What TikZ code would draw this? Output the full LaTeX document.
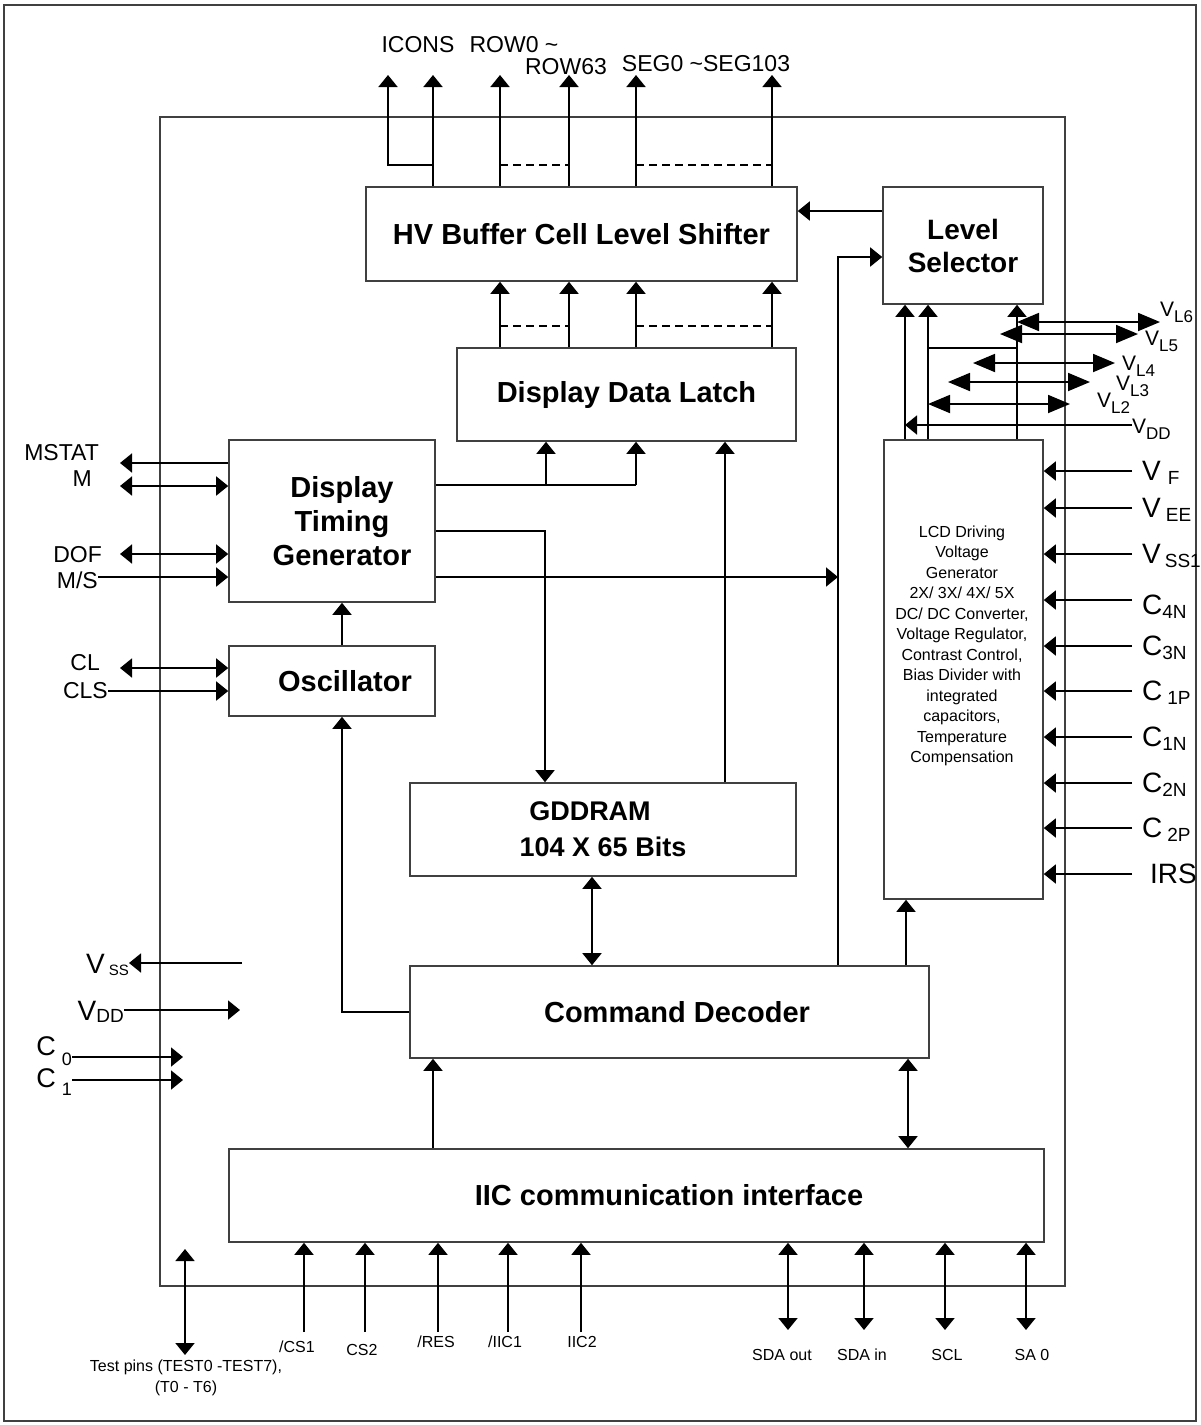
\documentclass[tikz,border=0pt]{standalone}
\usepackage{fontspec}
\setmainfont{Liberation Sans}
\usetikzlibrary{arrows.meta}

\newcommand{\lowsub}[3]{\raisebox{-#3}{\fontsize{#1}{#1}\selectfont #2}}

\tikzset{
	frame/.style={line width=1.6pt, draw=black!75},
	blockbox/.style={draw=black!75, line width=1.6pt, inner sep=0pt, align=center,
		font=\fontsize{29}{34}\selectfont\bfseries},
	arr/.style={line width=1.8pt, -{Triangle[length=12pt,width=19pt]}},
	darr/.style={line width=1.8pt, {Triangle[length=12pt,width=19pt]}-{Triangle[length=12pt,width=19pt]}},
	bigdarr/.style={line width=1.8pt, {Triangle[length=22pt,width=18pt]}-{Triangle[length=22pt,width=18pt]}},
	bus/.style={line width=1.6pt, dash pattern=on 8pt off 5pt},
	pinlbl/.style={inner sep=0pt, font=\fontsize{23}{27}\selectfont},
	biglbl/.style={inner sep=0pt, font=\fontsize{28}{30}\selectfont, anchor=base west},
	vllbl/.style={inner sep=0pt, font=\fontsize{21}{24}\selectfont, anchor=base west},
	smalllbl/.style={inner sep=0pt, font=\fontsize{16}{21}\selectfont, align=center},
}

\begin{document}
\begin{tikzpicture}[x=1pt, y=-1pt]
	\useasboundingbox (0,0) rectangle (1200,1425);
	%% Rahmen
	\draw[frame] (4,5) rectangle (1196,1421);
	\draw[frame] (160,117) rectangle (1065,1286);

	%% Bloecke
	\node[blockbox, minimum width=431pt, minimum height=94pt] (hv) at (581.5,234) {HV Buffer Cell Level Shifter};
	\node[blockbox, minimum width=160pt, minimum height=117pt, font=\fontsize{28}{33}\selectfont\bfseries] (lsel) at (963,245.5) {Level\\Selector};
	\node[blockbox, minimum width=339pt, minimum height=93pt] (ddl) at (626.5,394.5) {Display Data Latch};
	\node[blockbox, minimum width=206pt, minimum height=162pt] (dtg) at (332,521) {\hspace*{20pt}Display\\\hspace*{20pt}Timing\\\hspace*{20pt}Generator};
	\node[blockbox, minimum width=206pt, minimum height=70pt] (osc) at (332,681) {\hspace*{26pt}Oscillator};
	\node[blockbox, minimum width=386pt, minimum height=93pt, font=\fontsize{27}{36}\selectfont\bfseries] (gdd) at (603,829.5) {GDDRAM\hspace*{26pt}\\104 X 65 Bits};
	\node[blockbox, minimum width=159pt, minimum height=459pt] (lcd) at (963.5,669.5) {};
	\node[blockbox, minimum width=519pt, minimum height=92pt] (cmd) at (669.5,1012) {\hspace*{15pt}Command Decoder};
	\node[blockbox, minimum width=815pt, minimum height=93pt] (iic) at (636.5,1195.5) {\hspace*{65pt}IIC communication interface};

	\node[smalllbl, font=\fontsize{16}{20.5}\selectfont] (lcdtxt) at (962,646) {LCD Driving\\Voltage\\Generator\\2X/ 3X/ 4X/ 5X\\DC/ DC Converter,\\Voltage Regulator,\\Contrast Control,\\Bias Divider with\\integrated\\capacitors,\\Temperature\\Compensation};

	%% Ausgaenge oben
	\node[pinlbl] (icons) at (418,45) {ICONS};
	\node[pinlbl] (row0) at (514,45) {ROW0 \textasciitilde};
	\node[pinlbl] (row63) at (566,67) {ROW63};
	\node[pinlbl] (seg) at (706,64) {SEG0 \textasciitilde SEG103};

	\draw[arr] (hv.north -| 433,0) -- (433,75);
	\draw[arr] (433,165) -| (388,75);
	\foreach \x in {500,569,636,772}
		\draw[arr] (hv.north -| \x,0) -- (\x,75);
	\draw[bus] (500,165) -- (569,165);
	\draw[bus] (636,165) -- (772,165);

	%% Latch -> Shifter
	\foreach \x in {500,569,636,772}
		\draw[arr] (ddl.north -| \x,0) -- (hv.south -| \x,0);
	\draw[bus] (500,326) -- (569,326);
	\draw[bus] (636,326) -- (772,326);

	%% Level Selector
	\draw[arr] (lsel.west |- 0,211) -- (hv.east |- 0,211);
	\draw[arr] (cmd.north -| 838,0) |- (lsel.west |- 0,257);
	\foreach \x in {905,928,1017}
		\draw[arr] (lcd.north -| \x,0) -- (lsel.south -| \x,0);
	\draw[line width=1.8pt] (928,348) -- (1017,348);

	%% V_L
	\node[vllbl] (vl6) at (1160,316) {V\lowsub{17pt}{L6}{6pt}};
	\node[vllbl] (vl5) at (1145,345) {V\lowsub{17pt}{L5}{6pt}};
	\node[vllbl] (vl4) at (1122,370) {V\lowsub{17pt}{L4}{6pt}};
	\node[vllbl] (vl3) at (1116,390) {V\lowsub{17pt}{L3}{6pt}};
	\node[vllbl] (vl2) at (1097,407) {V\lowsub{17pt}{L2}{6pt}};
	\node[vllbl] (vdd2) at (1132,433) {V\lowsub{17pt}{DD}{6pt}};
	\draw[bigdarr] (1017,322) -- (1160,322);
	\draw[bigdarr] (1000,334) -- (1138,334);
	\draw[bigdarr] (973,363) -- (1115,363);
	\draw[bigdarr] (948,382) -- (1090,382);
	\draw[bigdarr] (928,404) -- (1070,404);
	\draw[arr] (vdd2.west |- 0,425) -- (905,425);

	%% Eingaenge rechts
	\foreach \y/\nm/\lbl in {471/vf/{V\hspace{7pt}\lowsub{19pt}{F}{4pt}},
			508/vee/{V\hspace{5pt}\lowsub{19pt}{EE}{4pt}},
			554/vssa/{V\hspace{4pt}\lowsub{19pt}{SS1}{4pt}},
			646/cthn/{C\lowsub{19pt}{3N}{4pt}},
			691/cop/{C\hspace{5pt}\lowsub{19pt}{1P}{4pt}},
			737/con/{C\lowsub{19pt}{1N}{4pt}},
			783/ctn/{C\lowsub{19pt}{2N}{4pt}},
			828/ctp/{C\hspace{5pt}\lowsub{19pt}{2P}{4pt}}}{
		\node[biglbl] (\nm) at (1142,{\y+9}) {\lbl};
		\draw[arr] (1132,\y) -- (lcd.east |- 0,\y);
	}
	\node[biglbl] (cfn) at (1142,614) {C\lowsub{19pt}{4N}{4pt}};
	\draw[arr] (1132,600) -- (lcd.east |- 0,600);
	\node[biglbl] (irs) at (1150,883) {IRS};
	\draw[arr] (1132,874) -- (lcd.east |- 0,874);

	%% Eingaenge links
	\node[pinlbl, anchor=east] (mstat) at (99,453) {MSTAT};
	\node[pinlbl, anchor=east] (m) at (92,479) {M};
	\node[pinlbl, anchor=east] (dof) at (102,555) {DOF};
	\node[pinlbl, anchor=east] (ms) at (98,580) {M/S};
	\node[pinlbl, anchor=east] (cl) at (100,663) {CL};
	\node[pinlbl, anchor=east] (cls) at (108,691) {CLS};
	\draw[arr] (dtg.west |- 0,463) -- (120,463);
	\draw[darr] (120,486) -- (dtg.west |- 0,486);
	\draw[darr] (120,554) -- (dtg.west |- 0,554);
	\draw[arr] (ms.east |- 0,577) -- (dtg.west |- 0,577);
	\draw[darr] (120,668) -- (osc.west |- 0,668);
	\draw[arr] (cls.east |- 0,691) -- (osc.west |- 0,691);

	\node[biglbl, anchor=base east] (vss) at (129,973) {V\hspace{4pt}\lowsub{15pt}{SS}{2pt}};
	\node[biglbl, anchor=base east] (vdd) at (124,1020) {V\lowsub{19pt}{DD}{2pt}};
	\node[biglbl, anchor=base east, font=\fontsize{27}{30}\selectfont] (czero) at (72,1055) {C\hspace{6pt}\lowsub{18pt}{0}{10pt}};
	\node[biglbl, anchor=base east, font=\fontsize{27}{30}\selectfont] (cone) at (72,1087) {C\hspace{6pt}\lowsub{18pt}{1}{8pt}};
	\draw[arr] (242,963) -- (vss.east |- 0,963);
	\draw[arr] (vdd.east |- 0,1010) -- (240,1010);
	\draw[arr] (czero.east |- 0,1057) -- (183,1057);
	\draw[arr] (cone.east |- 0,1080) -- (183,1080);

	%% Timing Generator
	\draw[line width=1.8pt] (dtg.east |- 0,485) -- (636,485);
	\draw[arr] (546,485) -- (ddl.south -| 546,0);
	\draw[arr] (636,485) -- (ddl.south -| 636,0);
	\draw[arr] (dtg.east |- 0,531) -| (gdd.north -| 545,0);
	\draw[arr] (dtg.east |- 0,577) -- (838,577);
	\draw[arr] (osc.north -| 342,0) -- (dtg.south -| 342,0);

	%% GDDRAM, Decoder
	\draw[arr] (gdd.north -| 725,0) -- (ddl.south -| 725,0);
	\draw[darr] (gdd.south -| 592,0) -- (cmd.north -| 592,0);
	\draw[arr] (cmd.north -| 906,0) -- (lcd.south -| 906,0);
	\draw[arr] (cmd.west) -| (osc.south -| 342,0);
	\draw[arr] (iic.north -| 433,0) -- (cmd.south -| 433,0);
	\draw[darr] (iic.north -| 908,0) -- (cmd.south -| 908,0);

	%% Anschluesse unten
	\node[smalllbl] (test) at (186,1378) {Test pins (TEST0 -TEST7),\\(T0 - T6)};
	\node[smalllbl] (csa) at (297,1347) {/CS1};
	\node[smalllbl] (csb) at (362,1350) {CS2};
	\node[smalllbl] (res) at (436,1342) {/RES};
	\node[smalllbl] (iica) at (505,1342) {/IIC1};
	\node[smalllbl] (iicb) at (582,1342) {IIC2};
	\node[smalllbl] (sdaout) at (782,1355) {SDA out};
	\node[smalllbl] (sdain) at (862,1355) {SDA in};
	\node[smalllbl] (scl) at (947,1355) {SCL};
	\node[smalllbl] (sa) at (1032,1355) {SA 0};

	\draw[darr] (185,1355) -- (185,1249);
	\foreach \x in {304,365,438,508,581}
		\draw[arr] (\x,1332) -- (iic.south -| \x,0);
	\foreach \x in {788,864,945,1026}
		\draw[darr] (\x,1330) -- (iic.south -| \x,0);
\end{tikzpicture}
\end{document}
